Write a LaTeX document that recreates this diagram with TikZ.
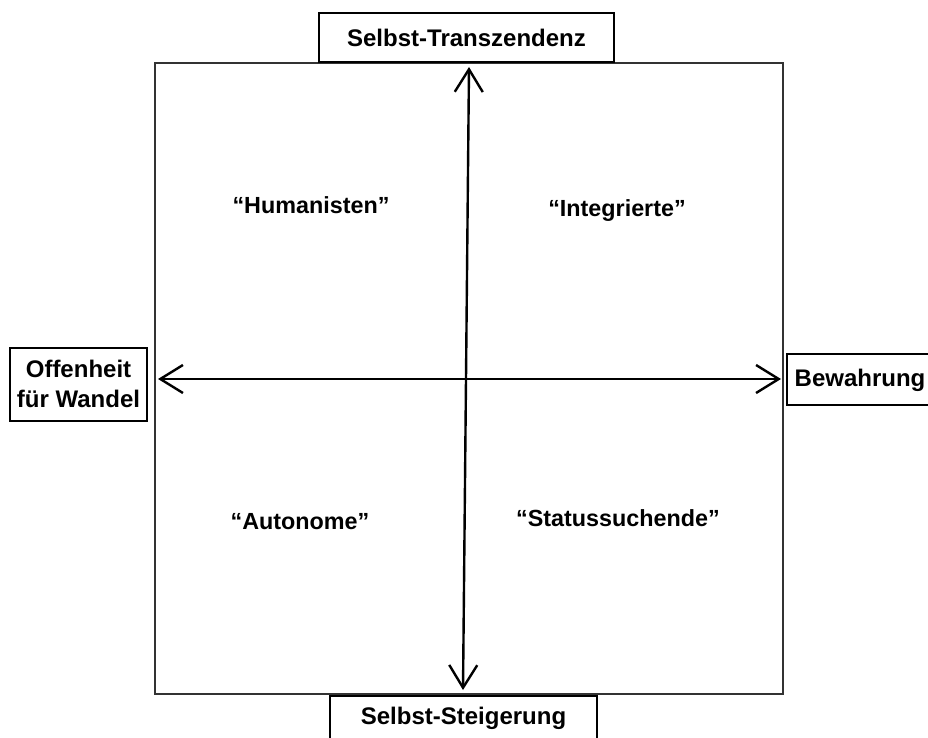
\documentclass[tikz,border=0pt]{standalone}
\usepackage{fontspec}
\setmainfont{Liberation Sans}
\usetikzlibrary{arrows.meta}
\begin{document}
\begin{tikzpicture}[x=0.75pt,y=-0.75pt,
  lbl/.style={font=\fontsize{17.5}{22}\selectfont\bfseries},
  boxlbl/.style={font=\fontsize{18}{22}\selectfont\bfseries},
  labelbox/.style={draw=black,line width=1.8pt,fill=white,inner sep=0pt},
  axis/.style={line width=1.8pt,{Straight Barb[length=17pt,width=21pt,line width=1.8pt]}-{Straight Barb[length=17pt,width=21pt,line width=1.8pt]}}]
\useasboundingbox (0,0) rectangle (928,738);
\clip (0,0) rectangle (928,738);
% frame
\draw[line width=1.4pt,draw=black!80] (155,63) rectangle (783,694);
% axes
\coordinate (vt) at (469,67);
\coordinate (vb) at (463,690);
\coordinate (hl) at (158,379);
\coordinate (hr) at (781,379);
\draw[axis] (vb) -- (vt);
\draw[axis] (hl) -- (hr);
% label boxes
\draw[labelbox] (319,13) rectangle (614,62);
\node[boxlbl] (top) at (466.5,38) {Selbst-Transzendenz};
\draw[labelbox] (330,696) rectangle (597,750);
\node[boxlbl] (bot) at (463.5,718) {Selbst-Steigerung};
\draw[labelbox] (10,348) rectangle (147,421);
\node[boxlbl,align=center] (left) at (78.5,384) {Offenheit\\[0pt]für Wandel};
\draw[labelbox] (787,354) rectangle (940,405);
\node[boxlbl] (right) at (860,380) {Bewahrung};
% quadrant labels
\node[lbl] (hum) at (311,205) {“Humanisten”};
\node[lbl] (int) at (617,211) {“Integrierte”};
\node[lbl] (aut) at (300,522) {“Autonome”};
\node[lbl] (sta) at (618,518) {“Statussuchende”};
\end{tikzpicture}
\end{document}
